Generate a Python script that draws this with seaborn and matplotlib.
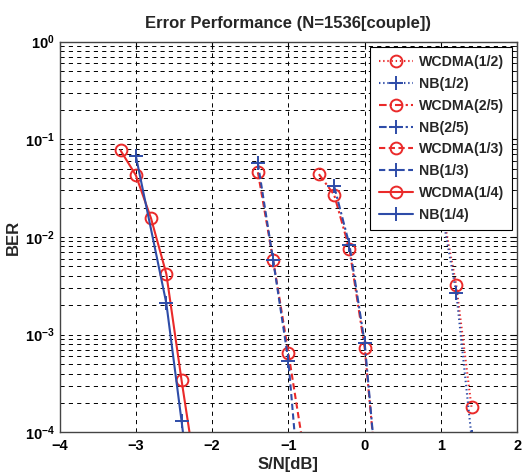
import numpy as np
import pandas as pd
import seaborn as sns
import matplotlib
matplotlib.use("Agg")
import matplotlib.pyplot as plt
from matplotlib.ticker import LogLocator, FixedLocator

# S/N [dB] and BER for each code rate
snr_wcdma_12 = [1.0, 1.2, 1.4]
ber_wcdma_12 = [2.2e-2, 3.2e-3, 1.8e-4]
snr_nb_12 = [1.0, 1.2, 1.4]
ber_nb_12 = [2.0e-2, 2.7e-3, 9.0e-5]

snr_wcdma_25 = [-0.6, -0.4, -0.2, 0.0, 0.2]
ber_wcdma_25 = [4.4e-2, 2.7e-2, 7.5e-3, 7.3e-4, 1.5e-5]
snr_nb_25 = [-0.4, -0.2, 0.0, 0.2]
ber_nb_25 = [3.3e-2, 8.3e-3, 8.2e-4, 1.5e-5]

snr_wcdma_13 = [-1.4, -1.2, -1.0, -0.8]
ber_wcdma_13 = [4.6e-2, 5.8e-3, 6.5e-4, 6.7e-5]
snr_nb_13 = [-1.4, -1.2, -1.0, -0.8]
ber_nb_13 = [5.7e-2, 5.8e-3, 5.4e-4, 8.0e-6]

snr_wcdma_14 = [-3.2, -3.0, -2.8, -2.6, -2.4, -2.2]
ber_wcdma_14 = [7.7e-2, 4.3e-2, 1.55e-2, 4.2e-3, 3.4e-4, 3.2e-5]
snr_nb_14 = [-3.0, -2.6, -2.4, -2.2]
ber_nb_14 = [6.8e-2, 2.1e-3, 1.3e-4, 7.0e-6]

x_ticks = [-4, -3, -2, -1, 0, 1, 2]

RED = "#ea2a2a"
BLUE = "#2e4ca8"

# explicit dash patterns (in points)
DOTTED = (0, (1.0, 2.0))
DASHDOT = (0, (5.5, 2.2, 1.6, 2.2))
DASHED = (0, (4.5, 2.5))
SOLID = "-"

sns.set_theme(style="white")
plt.rcParams["font.family"] = ["Liberation Sans", "DejaVu Sans"]
plt.rcParams["font.weight"] = "bold"
plt.rcParams["mathtext.fontset"] = "custom"
plt.rcParams["mathtext.rm"] = "Liberation Sans:bold"
plt.rcParams["mathtext.it"] = "Liberation Sans:bold"
plt.rcParams["mathtext.bf"] = "Liberation Sans:bold"
plt.rcParams["mathtext.default"] = "rm"
plt.rcParams["lines.dash_capstyle"] = "butt"
plt.rcParams["lines.scale_dashes"] = False

fig = plt.figure(figsize=(5.23, 4.74), dpi=100)
ax = fig.add_axes([59.5 / 523, 1 - 432.3 / 474, (517.3 - 59.5) / 523, (432.3 - 41.7) / 474])

series = [
    ("WCDMA(1/2)", snr_wcdma_12, ber_wcdma_12, RED, DOTTED, "o"),
    ("NB(1/2)", snr_nb_12, ber_nb_12, BLUE, DOTTED, "+"),
    ("WCDMA(2/5)", snr_wcdma_25, ber_wcdma_25, RED, DASHDOT, "o"),
    ("NB(2/5)", snr_nb_25, ber_nb_25, BLUE, DASHDOT, "+"),
    ("WCDMA(1/3)", snr_wcdma_13, ber_wcdma_13, RED, DASHED, "o"),
    ("NB(1/3)", snr_nb_13, ber_nb_13, BLUE, DASHED, "+"),
    ("WCDMA(1/4)", snr_wcdma_14, ber_wcdma_14, RED, SOLID, "o"),
    ("NB(1/4)", snr_nb_14, ber_nb_14, BLUE, SOLID, "+"),
]

for name, xs, ys, col, ls, mk in series:
    df = pd.DataFrame({"snr": xs, "ber": ys})
    n_before = len(ax.lines)
    sns.lineplot(data=df, x="snr", y="ber", ax=ax, color=col,
                 linewidth=1.5, marker=mk,
                 markersize=8.5 if mk == "o" else 10,
                 markerfacecolor="none", markeredgecolor=col,
                 markeredgewidth=1.4, estimator=None, label=name)
    for ln in ax.lines[n_before:]:
        ln.set_linestyle(ls)
        ln.set_dash_capstyle("butt")

ax.set_yscale("log")
ax.set_xlim(-4, 2)
ax.set_ylim(1e-4, 1)
ax.xaxis.set_major_locator(FixedLocator(x_ticks))
ax.yaxis.set_major_locator(LogLocator(base=10, numticks=10))
ax.yaxis.set_minor_locator(LogLocator(base=10, subs=np.arange(2, 10), numticks=10))

grid_kw = dict(color="black", linestyle=(0, (3, 3)), linewidth=0.7)
ax.xaxis.grid(True, which="major", **grid_kw)
ax.yaxis.grid(True, which="major", **grid_kw)
ax.yaxis.grid(True, which="minor", **grid_kw)

ax.tick_params(axis="both", which="both", direction="in", top=True, right=True,
               colors="black", labelsize=10.5)
ax.tick_params(axis="both", which="major", length=5, width=0.8)
ax.tick_params(axis="x", which="major", pad=5)
ax.tick_params(axis="y", which="minor", length=3, width=0.6)
for lbl in ax.get_xticklabels() + ax.get_yticklabels():
    lbl.set_fontweight("bold")
for sp in ax.spines.values():
    sp.set_color("#444444")
    sp.set_linewidth(1.0)

ax.set_xlabel("S/N[dB]", fontsize=12, fontweight="bold", labelpad=3)
ax.set_ylabel("BER", fontsize=12, fontweight="bold", labelpad=3)
ax.set_title("Error Performance (N=1536[couple])", fontsize=12,
             fontweight="bold", pad=10)

handles, labels = ax.get_legend_handles_labels()
for h, (_, _, _, _, ls, _) in zip(handles, series):
    h.set_linestyle(ls)
    h.set_dash_capstyle("butt")
leg = ax.legend(handles, labels, loc="upper right", fontsize=10.2,
                handlelength=2.4, labelspacing=0.55, borderpad=0.6,
                handletextpad=0.4, borderaxespad=0.35, fancybox=False,
                framealpha=1, edgecolor="black")
leg.get_frame().set_linewidth(0.8)
leg.set_zorder(10)

fig.savefig("out.png", dpi=100)
